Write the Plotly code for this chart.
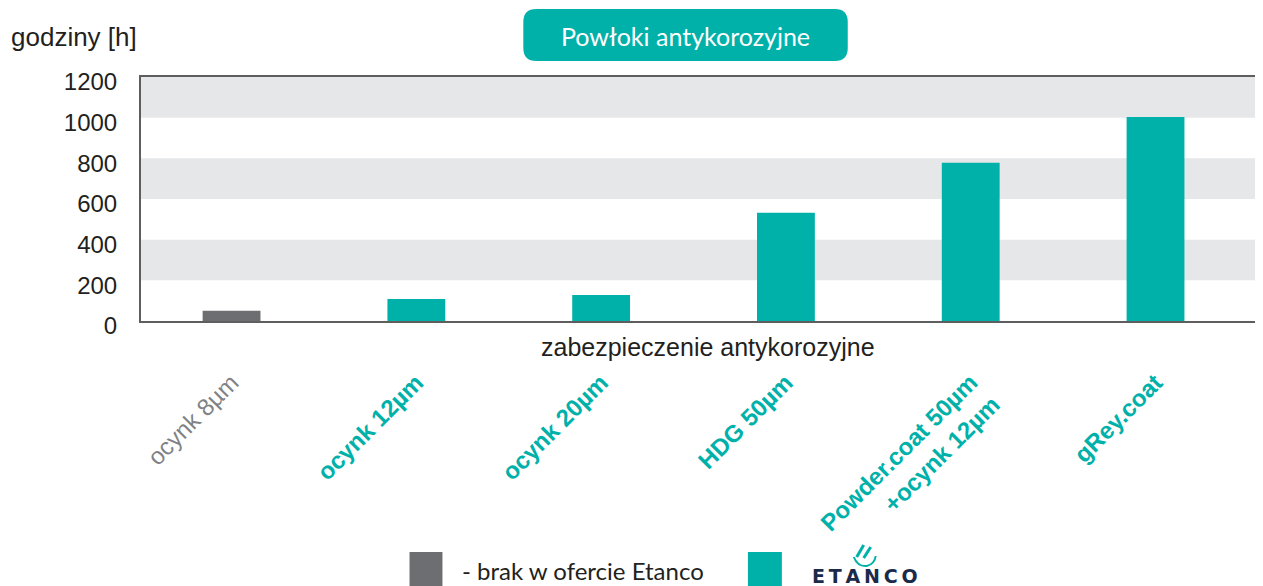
import plotly.graph_objects as go

# ---- data ----
categories = ["ocynk 8µm", "ocynk 12µm", "ocynk 20µm", "HDG 50µm",
              "Powder.coat 50µm<br>+ocynk 12µm", "gRey.coat"]
hours = [50, 108, 128, 532, 778, 1003]
in_offer = [False, True, True, True, True, True]
y_ticks = [0, 200, 400, 600, 800, 1000, 1200]
band_ranges = [(200, 400), (600, 800), (1000, 1200)]

TEAL = "#00B1AA"
GREY = "#6D6E72"
BAND = "#E6E7E8"
TXT = "#231F20"

OFF = 8  # page body margin
W, H = 1263 - OFF, 586 - OFF
PL, PR, PT, PB = 141, 1261, 77, 321  # in page pixels

def px(x):
    return (x - PL) / (PR - PL)

def py(y):
    return (PB - y) / (PB - PT)

colors = [TEAL if o else GREY for o in in_offer]
ticktext = []
for c, o in zip(categories, in_offer):
    if o:
        ticktext.append(f"<b>{c}</b>")
    else:
        ticktext.append(f"<span style='color:#808285'>{c}</span>")

fig = go.Figure()
fig.add_trace(go.Bar(
    x=list(range(len(categories))), y=hours,
    marker=dict(color=colors, line=dict(width=0)),
    width=0.313, hoverinfo="skip", showlegend=False,
))

shapes = []
for a, b in band_ranges:
    shapes.append(dict(type="rect", xref="paper", yref="y", x0=0, x1=1, y0=a, y1=b,
                       fillcolor=BAND, line=dict(width=0), layer="below"))

# title rounded box
x0, x1 = px(524), px(849)
y1, y0 = py(9), py(61)
rx, ry = 13 / (PR - PL), 13 / (PB - PT)
path = (f"M {x0+rx},{y1} L {x1-rx},{y1} Q {x1},{y1} {x1},{y1-ry} "
        f"L {x1},{y0+ry} Q {x1},{y0} {x1-rx},{y0} L {x0+rx},{y0} "
        f"Q {x0},{y0} {x0},{y0+ry} L {x0},{y1-ry} Q {x0},{y1} {x0+rx},{y1} Z")
shapes.append(dict(type="path", xref="paper", yref="paper", path=path,
                   fillcolor=TEAL, line=dict(width=0)))

# legend squares
shapes.append(dict(type="rect", xref="paper", yref="paper",
                   x0=px(410), x1=px(443), y0=py(592), y1=py(552),
                   fillcolor=GREY, line=dict(width=0)))
shapes.append(dict(type="rect", xref="paper", yref="paper",
                   x0=px(749), x1=px(783), y0=py(592), y1=py(552),
                   fillcolor=TEAL, line=dict(width=0)))

# Etanco swoosh logo (approximation)
for (ax, ay, bx, by) in [(858, 557, 865, 545), (865, 558, 872, 547)]:
    shapes.append(dict(type="line", xref="paper", yref="paper",
                       x0=px(ax), y0=py(ay), x1=px(bx), y1=py(by),
                       line=dict(color=TEAL, width=3)))
arc = (f"M {px(855)},{py(557)} Q {px(859)},{py(567)} {px(868)},{py(566)} "
       f"Q {px(876)},{py(564)} {px(877)},{py(556)}")
shapes.append(dict(type="path", xref="paper", yref="paper", path=arc,
                   line=dict(color=TEAL, width=2)))

annotations = [
    dict(text="godziny [h]", xref="paper", yref="paper", x=px(9), y=py(37),
         xanchor="left", yanchor="middle", showarrow=False,
         font=dict(size=26, color=TXT, family="Liberation Sans, Arial")),
    dict(text="Powłoki antykorozyjne", xref="paper", yref="paper",
         x=px(686), y=py(36), xanchor="center", yanchor="middle", showarrow=False,
         font=dict(size=25, color="white", family="Lato")),
    dict(text="zabezpieczenie antykorozyjne", xref="paper", yref="paper",
         x=px(709), y=py(347), xanchor="center", yanchor="middle", showarrow=False,
         font=dict(size=25, color=TXT, family="Liberation Sans, Arial")),
    dict(text="- brak w ofercie Etanco", xref="paper", yref="paper",
         x=px(461), y=py(570), xanchor="left", yanchor="middle", showarrow=False,
         font=dict(size=24, color=TXT, family="Lato")),
    dict(text="<b>E\u2009T\u2009A\u2009N\u2009C\u2009O</b>", xref="paper", yref="paper",
         x=px(866), y=py(576), xanchor="center", yanchor="middle", showarrow=False,
         font=dict(size=19, color="#1B2A4A", family="DejaVu Sans")),
]

fig.update_layout(
    width=W, height=H, autosize=False,
    margin=dict(l=PL - OFF, r=1263 - PR, t=PT - OFF, b=586 - PB, pad=0),
    paper_bgcolor="white", plot_bgcolor="white",
    shapes=shapes, annotations=annotations,
    font=dict(family="Liberation Sans, Arial", color=TXT),
    xaxis=dict(
        range=[-0.49, 5.56], tickmode="array",
        tickvals=list(range(len(categories))), ticktext=ticktext,
        tickangle=-45, tickfont=dict(size=24, color=TEAL, family="Liberation Sans, Arial"),
        ticks="", showgrid=False, zeroline=False,
        showline=True, mirror=True, linecolor="#5E5E5E", linewidth=2,
        ticklabelstandoff=36, fixedrange=True,
    ),
    yaxis=dict(
        range=[0, 1200], tickmode="array", tickvals=y_ticks,
        tickfont=dict(size=24, color=TXT), ticks="", showgrid=False, zeroline=False,
        showline=True, mirror=True, linecolor="#5E5E5E", linewidth=2,
        ticklabelstandoff=17, ticklabelshift=5, fixedrange=True,
    ),
    bargap=0.69,
)

fig.write_html("out.html", config={"responsive": False})
